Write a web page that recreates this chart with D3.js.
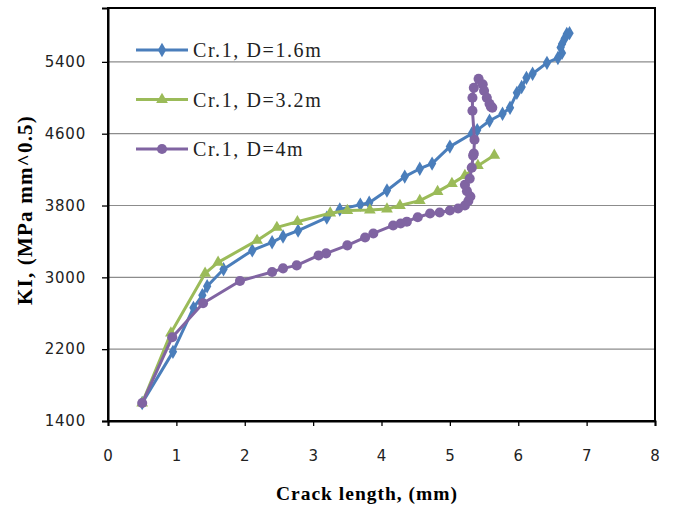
<!DOCTYPE html>
<html>
<head>
<meta charset="utf-8">
<script src="https://cdn.jsdelivr.net/npm/d3@7"></script>
<style>
body { margin: 0; background: #fff; }
svg { display: block; }
</style>
</head>
<body>
<div id="graphic"></div>
<script>
// values
var seriesNames = ["Cr.1, D=1.6m", "Cr.1, D=3.2m", "Cr.1, D=4m"];
var seriesColors = ["#4a7ebb", "#9bbb59", "#8064a2"];

var blueX = [0.5, 0.95, 1.25, 1.38, 1.45, 1.69, 2.11, 2.40, 2.56, 2.78, 3.2, 3.39, 3.69, 3.82, 4.08, 4.34, 4.56, 4.74, 5.0, 5.32, 5.4, 5.58, 5.77, 5.88, 5.98, 6.05, 6.12, 6.21, 6.42, 6.58, 6.64, 6.62, 6.64, 6.68, 6.71, 6.75];
var blueY = [1600, 2170, 2660, 2800, 2900, 3090, 3300, 3390, 3455, 3520, 3665, 3755, 3810, 3830, 3967, 4122, 4210, 4267, 4456, 4600, 4640, 4744, 4822, 4889, 5055, 5120, 5222, 5267, 5389, 5444, 5500, 5560, 5600, 5660, 5711, 5720];

var greenX = [0.5, 0.92, 1.42, 1.61, 2.18, 2.47, 2.77, 3.25, 3.5, 3.83, 4.08, 4.27, 4.56, 4.82, 5.03, 5.22, 5.41, 5.65];
var greenY = [1600, 2380, 3044, 3167, 3411, 3556, 3620, 3715, 3744, 3750, 3760, 3800, 3855, 3955, 4044, 4133, 4244, 4360];

var purpleX = [0.5, 0.94, 1.39, 1.93, 2.4, 2.56, 2.76, 3.08, 3.19, 3.5, 3.76, 3.88, 4.17, 4.28, 4.37, 4.53, 4.71, 4.85, 5.0, 5.12, 5.22, 5.27, 5.3, 5.25, 5.22, 5.29, 5.32, 5.34, 5.35, 5.36, 5.33, 5.33, 5.35, 5.42, 5.48, 5.5, 5.54, 5.58, 5.62, 5.6];
var purpleY = [1600, 2333, 2711, 2960, 3060, 3100, 3133, 3244, 3267, 3356, 3444, 3489, 3578, 3600, 3620, 3670, 3711, 3722, 3744, 3767, 3800, 3850, 3900, 3960, 4030, 4100, 4222, 4356, 4378, 4533, 4856, 5000, 5111, 5211, 5150, 5078, 5000, 4933, 4890, 4900];

var xTicks = [0, 1, 2, 3, 4, 5, 6, 7, 8];
var yTicks = [1400, 2200, 3000, 3800, 4600, 5400];

var width = 675, height = 507;
var margin = {top: 8, right: 20, bottom: 86, left: 108};

var svg = d3.select("#graphic").append("svg")
	.attr("width", width)
	.attr("height", height);

var x = d3.scaleLinear().domain([0, 8]).range([margin.left, width - margin.right]);
var y = d3.scaleLinear().domain([1400, 6000]).range([height - margin.bottom, margin.top]);

// gridlines
svg.append("g")
	.selectAll("line")
	.data(yTicks.slice(1))
	.enter().append("line")
	.attr("x1", x(0)).attr("x2", x(8))
	.attr("y1", function(d) { return y(d); })
	.attr("y2", function(d) { return y(d); })
	.attr("stroke", "#8c8c8c")
	.attr("stroke-width", 1.2);

// plot frame
svg.append("rect")
	.attr("x", x(0)).attr("y", y(6000))
	.attr("width", x(8) - x(0))
	.attr("height", y(1400) - y(6000))
	.attr("fill", "none")
	.attr("stroke", "#000")
	.attr("stroke-width", 2);

var xAxis = svg.append("g")
	.attr("transform", "translate(0," + y(1400) + ")")
	.call(d3.axisBottom(x).tickValues(xTicks).tickSize(5).tickPadding(24).tickFormat(d3.format("d")));

var yAxis = svg.append("g")
	.attr("transform", "translate(" + x(0) + ",0)")
	.call(d3.axisLeft(y).tickValues(yTicks).tickSize(6).tickPadding(16).tickFormat(d3.format("d")));

[xAxis, yAxis].forEach(function(a) {
	a.select(".domain").attr("stroke", "#000").attr("stroke-width", 2);
	a.selectAll(".tick line").attr("stroke", "#000").attr("stroke-width", 1.3);
	a.selectAll(".tick text")
		.attr("fill", "#222")
		.style("font-family", "'DejaVu Sans', Verdana, sans-serif")
		.style("font-size", "15px")
		.style("letter-spacing", "0.8px");
});

// axis titles
svg.append("text")
	.attr("x", 367).attr("y", 500)
	.attr("text-anchor", "middle")
	.style("font-family", "'Liberation Serif', 'Times New Roman', serif")
	.style("font-weight", "bold")
	.style("font-size", "19.5px")
	.style("letter-spacing", "1px")
	.text("Crack length, (mm)");

svg.append("text")
	.attr("transform", "translate(32,210) rotate(-90)")
	.attr("text-anchor", "middle")
	.style("font-family", "'Liberation Serif', 'Times New Roman', serif")
	.style("font-weight", "bold")
	.style("font-size", "21px")
	.style("letter-spacing", "1.2px")
	.text("KI, (MPa mm^0.5)");

var series = [
	{xs: blueX, ys: blueY, shape: d3.symbolDiamond, size: 60},
	{xs: greenX, ys: greenY, shape: d3.symbolTriangle, size: 60},
	{xs: purpleX, ys: purpleY, shape: d3.symbolCircle, size: 80}
];

var line = d3.line()
	.x(function(d) { return x(d[0]); })
	.y(function(d) { return y(d[1]); });

series.forEach(function(s, i) {
	var pts = d3.zip(s.xs, s.ys);
	var g = svg.append("g").attr("class", "series");
	g.append("path")
		.datum(pts)
		.attr("d", line)
		.attr("fill", "none")
		.attr("stroke", seriesColors[i])
		.attr("stroke-width", 3)
		.attr("stroke-linejoin", "round");
	g.selectAll("path.mark")
		.data(pts)
		.enter().append("path")
		.attr("class", "mark")
		.attr("d", d3.symbol().type(s.shape).size(s.size))
		.attr("transform", function(d) { return "translate(" + x(d[0]) + "," + y(d[1]) + ")"; })
		.attr("fill", seriesColors[i]);
});

// legend
var legend = svg.append("g").attr("transform", "translate(136,50)");
series.forEach(function(s, i) {
	var row = legend.append("g").attr("transform", "translate(0," + (i * 49.5) + ")");
	row.append("line")
		.attr("x1", 0).attr("x2", 52)
		.attr("stroke", seriesColors[i])
		.attr("stroke-width", 3);
	row.append("path")
		.attr("d", d3.symbol().type(s.shape).size(s.size))
		.attr("transform", "translate(26,0)")
		.attr("fill", seriesColors[i]);
	row.append("text")
		.attr("x", 57).attr("y", 7)
		.style("font-family", "'Liberation Serif', 'Times New Roman', serif")
		.style("font-size", "20px")
		.style("letter-spacing", "1.6px")
		.attr("fill", "#222")
		.text(seriesNames[i]);
});
</script>
</body>
</html>
